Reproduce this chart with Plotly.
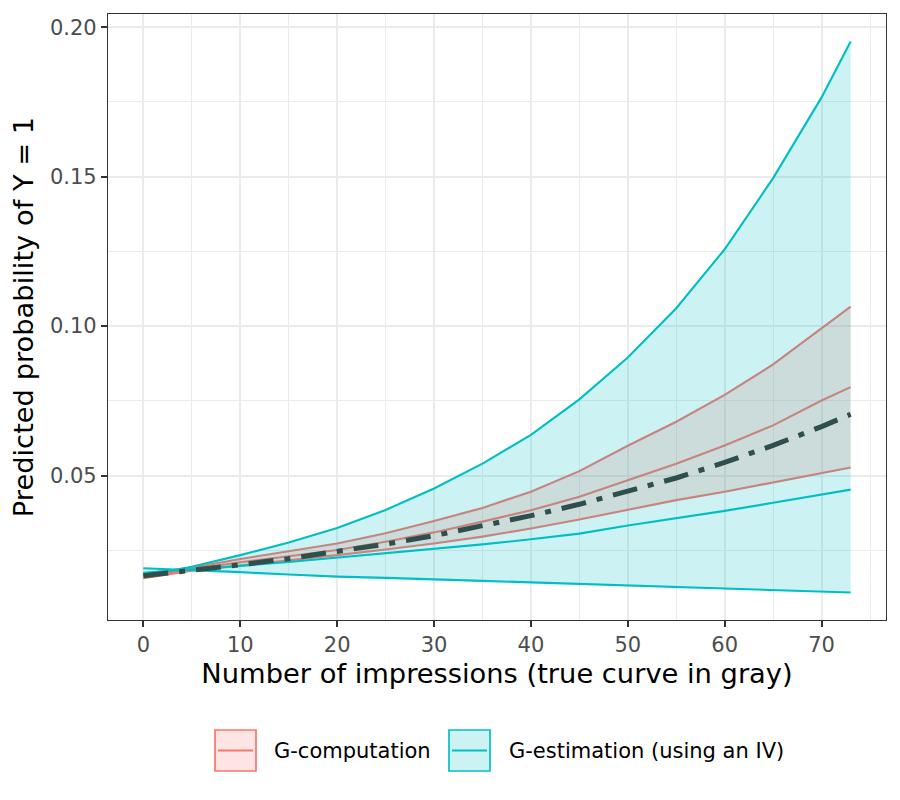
import plotly.graph_objects as go

# x grid of the curves
impressions = [0, 5, 10, 15, 20, 25, 30, 35, 40, 45, 50, 55, 60, 65, 70, 73]

# G-computation (estimate + 95% band)
gcomp_est = [0.0164, 0.0187, 0.0210, 0.0230, 0.0251, 0.0279, 0.0310, 0.0346,
             0.0384, 0.0429, 0.0484, 0.0540, 0.0601, 0.0668, 0.0751, 0.0796]
gcomp_lo = [0.0157, 0.0182, 0.0199, 0.0216, 0.0234, 0.0253, 0.0273, 0.0296,
            0.0323, 0.0353, 0.0386, 0.0418, 0.0446, 0.0477, 0.0509, 0.0527]
gcomp_hi = [0.0172, 0.0192, 0.0221, 0.0246, 0.0273, 0.0307, 0.0348, 0.0392,
            0.0446, 0.0515, 0.0600, 0.0680, 0.0770, 0.0872, 0.0993, 0.1065]

# G-estimation using an IV (estimate + 95% band)
gest_est = [0.0175, 0.0186, 0.0198, 0.0211, 0.0226, 0.0239, 0.0254, 0.0270,
            0.0287, 0.0306, 0.0333, 0.0357, 0.0382, 0.0409, 0.0436, 0.0453]
gest_lo = [0.0190, 0.0184, 0.0177, 0.0169, 0.0162, 0.0158, 0.0154, 0.0148,
           0.0143, 0.0138, 0.0131, 0.0126, 0.0121, 0.0117, 0.0112, 0.0109]
gest_hi = [0.0166, 0.0195, 0.0234, 0.0276, 0.0325, 0.0385, 0.0457, 0.0540,
           0.0636, 0.0755, 0.0895, 0.1060, 0.1257, 0.1495, 0.1765, 0.1952]

# true curve (gray)
true_curve = [0.0165, 0.0182, 0.0202, 0.0222, 0.0245, 0.0271, 0.0299, 0.0331,
              0.0366, 0.0404, 0.0446, 0.0492, 0.0544, 0.0601, 0.0664, 0.0705]

x_ticks = [0, 10, 20, 30, 40, 50, 60, 70]
y_ticks = [0.05, 0.10, 0.15, 0.20]
y_labels = ["0.05", "0.10", "0.15", "0.20"]

legend_names = ["G-computation", "G-estimation (using an IV)"]

RED = "#F8766D"
TEAL = "#00BFC4"
RED_FILL = "rgba(248,118,109,0.2)"
TEAL_FILL = "rgba(0,191,196,0.2)"

fig = go.Figure()


def add_band(lo, est, hi, color, fill):
    # ribbon as one closed polygon so it sits on top of earlier traces
    fig.add_trace(go.Scatter(
        x=impressions + impressions[::-1],
        y=hi + lo[::-1],
        fill="toself", fillcolor=fill, mode="lines",
        line=dict(width=0), hoverinfo="skip", showlegend=False,
    ))
    for ys in (lo, est, hi):
        fig.add_trace(go.Scatter(
            x=impressions, y=ys, mode="lines",
            line=dict(color=color, width=2.1), showlegend=False,
        ))


add_band(gcomp_lo, gcomp_est, gcomp_hi, RED, RED_FILL)
add_band(gest_lo, gest_est, gest_hi, TEAL, TEAL_FILL)

fig.add_trace(go.Scatter(
    x=impressions, y=true_curve, mode="lines",
    line=dict(color="#2F4F4F", width=5, dash="25px,11px,6px,11px"),
    showlegend=False,
))

# ── legend drawn ggplot-style (boxes with a line inside) ──
# plot panel in page pixels: x 108..886, y 14..620
def px_x(p):
    return (p - 108) / 778


def px_y(p):
    return (620 - p) / 606


key_left = [215, 449]
text_left = [271.7, 506.7]
for name, color, fill, kx, tx in zip(legend_names, [RED, TEAL],
                                     [RED_FILL, TEAL_FILL], key_left, text_left):
    fig.add_shape(type="rect", xref="paper", yref="paper",
                  x0=px_x(kx), x1=px_x(kx + 41), y0=px_y(771), y1=px_y(730),
                  fillcolor=fill, line=dict(color=color, width=1.7))
    fig.add_shape(type="line", xref="paper", yref="paper",
                  x0=px_x(kx + 3), x1=px_x(kx + 38), y0=px_y(750.5), y1=px_y(750.5),
                  line=dict(color=color, width=2))
    fig.add_annotation(text=name, xref="paper", yref="paper",
                       x=px_x(tx), y=px_y(750.5), xanchor="left", yanchor="middle",
                       showarrow=False, font=dict(size=21, color="black"))

axis_common = dict(
    showgrid=True, gridcolor="#EBEBEB", gridwidth=1.6,
    showline=True, linecolor="#333333", linewidth=1.3, mirror=True,
    ticks="outside", ticklen=6, tickwidth=1.5, tickcolor="#333333",
    tickfont=dict(size=21, color="#4D4D4D"),
    zeroline=False,
    minor=dict(showgrid=True, gridcolor="#EBEBEB", gridwidth=0.8),
)

fig.update_xaxes(
    range=[-3.65, 76.65], tickvals=x_ticks,
    title=dict(text="Number of impressions (true curve in gray)",
               font=dict(size=27.3, color="black"), standoff=7),
    minor_dtick=5, minor_tick0=5,
    **axis_common,
)
fig.update_yaxes(
    range=[0.0017, 0.2044], tickvals=y_ticks, ticktext=y_labels,
    title=dict(text="Predicted probability of Y = 1",
               font=dict(size=27.3, color="black"), standoff=8),
    minor_tickvals=[0.025, 0.075, 0.125, 0.175],
    **axis_common,
)

fig.update_layout(
    width=900, height=800,
    font=dict(family="DejaVu Sans", color="black"),
    plot_bgcolor="white", paper_bgcolor="white",
    margin=dict(l=100, r=22, t=6, b=188, autoexpand=False),
    showlegend=False,
)

fig.write_html("out.html")
